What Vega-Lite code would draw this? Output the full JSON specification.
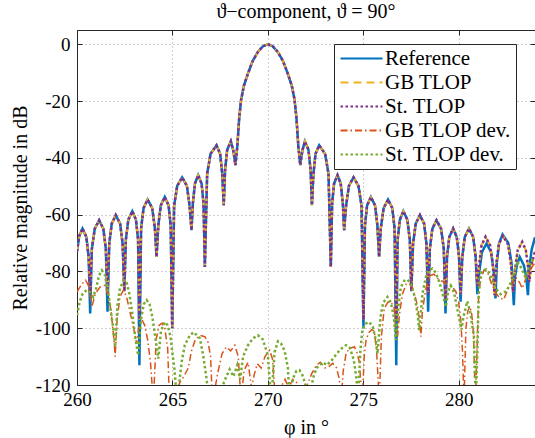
{
  "$schema": "https://vega.github.io/schema/vega-lite/v6.json",
  "width": 458,
  "height": 355,
  "autosize": {"type": "none"},
  "padding": {"left": 77, "top": 30, "right": 0, "bottom": 53},
  "background": "white",
  "title": {"text": "ϑ−component, ϑ = 90°", "font": "Liberation Serif, DejaVu Serif, serif", "fontSize": 20, "fontWeight": "normal", "color": "black", "anchor": "middle", "frame": "group", "baseline": "bottom", "offset": 6, "dy": 18},
  "config": {"view": {"stroke": null}},
  "datasets": {
    "main": [
      {"x":260.0,"r":-73,"t":-73},{"x":260.12,"r":-67.5,"t":-67.5},{"x":260.29,"r":-64.9,"t":-64.9},{"x":260.49,"r":-67.9,"t":-67.9},{"x":260.61,"r":-74.9,"t":-74.9},{"x":260.69,"r":-94.8,"t":-88},
      {"x":260.78,"r":-72,"t":-72},{"x":260.93,"r":-65,"t":-65},{"x":261.16,"r":-62,"t":-62},{"x":261.38,"r":-65,"t":-65},{"x":261.51,"r":-72,"t":-72},{"x":261.6,"r":-94.2,"t":-88},
      {"x":261.69,"r":-70.2,"t":-70.2},{"x":261.82,"r":-63.2,"t":-63.2},{"x":262.03,"r":-60.2,"t":-60.2},{"x":262.26,"r":-63.2,"t":-63.2},{"x":262.39,"r":-70.2,"t":-70.2},{"x":262.48,"r":-87,"t":-87},
      {"x":262.56,"r":-68.8,"t":-68.8},{"x":262.69,"r":-61.8,"t":-61.8},{"x":262.9,"r":-58.8,"t":-58.8},{"x":263.09,"r":-61.8,"t":-61.8},{"x":263.2,"r":-68.8,"t":-68.8},{"x":263.27,"r":-113,"t":-97},
      {"x":263.36,"r":-64.7,"t":-64.7},{"x":263.49,"r":-57.7,"t":-57.7},{"x":263.7,"r":-54.7,"t":-54.7},{"x":263.94,"r":-57.7,"t":-57.7},{"x":264.08,"r":-64.7,"t":-64.7},{"x":264.17,"r":-74.9,"t":-74.9},
      {"x":264.26,"r":-63.8,"t":-63.8},{"x":264.39,"r":-56.8,"t":-56.8},{"x":264.6,"r":-53.8,"t":-53.8},{"x":264.8,"r":-56.8,"t":-56.8},{"x":264.91,"r":-63.8,"t":-63.8},{"x":264.99,"r":-100,"t":-100},
      {"x":265.09,"r":-56.9,"t":-56.9},{"x":265.25,"r":-49.9,"t":-49.9},{"x":265.51,"r":-46.9,"t":-46.9},{"x":265.76,"r":-49.9,"t":-49.9},{"x":265.9,"r":-56.9,"t":-56.9},{"x":266.0,"r":-65.5,"t":-65.5},
      {"x":266.07,"r":-56.1,"t":-56.1},{"x":266.18,"r":-49.1,"t":-49.1},{"x":266.35,"r":-46.1,"t":-46.1},{"x":266.53,"r":-49.1,"t":-49.1},{"x":266.63,"r":-56.1,"t":-56.1},{"x":266.7,"r":-78.4,"t":-78.4},
      {"x":266.82,"r":-45.6,"t":-45.6},{"x":267.0,"r":-38.6,"t":-38.6},{"x":267.31,"r":-35.6,"t":-35.6},{"x":267.5,"r":-38.6,"t":-38.6},{"x":267.61,"r":-45.6,"t":-45.6},{"x":267.69,"r":-56.7,"t":-56.7},
      {"x":267.76,"r":-44.2,"t":-44.2},{"x":267.87,"r":-37.2,"t":-37.2},{"x":268.06,"r":-34.2,"t":-34.2},{"x":268.18,"r":-37.2,"t":-37.2},{"x":268.25,"r":-40,"t":-40},{"x":268.3,"r":-42.6,"t":-42.6},
      {"x":268.4,"r":-36,"t":-36},{"x":268.5,"r":-26,"t":-26},{"x":268.6,"r":-19.5,"t":-19.5},{"x":268.75,"r":-14.5,"t":-14.5},{"x":268.96,"r":-10.3,"t":-10.3},{"x":269.2,"r":-6,"t":-6},
      {"x":269.48,"r":-2.7,"t":-2.7},{"x":269.75,"r":-0.7,"t":-0.7},{"x":270.0,"r":0,"t":0},{"x":270.25,"r":-0.7,"t":-0.7},{"x":270.52,"r":-2.7,"t":-2.7},{"x":270.8,"r":-6,"t":-6},
      {"x":271.04,"r":-10.3,"t":-10.3},{"x":271.25,"r":-14.5,"t":-14.5},{"x":271.4,"r":-19.5,"t":-19.5},{"x":271.5,"r":-26,"t":-26},{"x":271.6,"r":-36,"t":-36},{"x":271.7,"r":-42.6,"t":-42.6},
      {"x":271.75,"r":-40,"t":-40},{"x":271.82,"r":-37.2,"t":-37.2},{"x":271.94,"r":-34.2,"t":-34.2},{"x":272.13,"r":-37.2,"t":-37.2},{"x":272.24,"r":-44.2,"t":-44.2},{"x":272.31,"r":-56.7,"t":-56.7},
      {"x":272.39,"r":-45.6,"t":-45.6},{"x":272.5,"r":-38.6,"t":-38.6},{"x":272.69,"r":-35.6,"t":-35.6},{"x":273.0,"r":-38.6,"t":-38.6},{"x":273.18,"r":-45.6,"t":-45.6},{"x":273.3,"r":-78.4,"t":-78.4},
      {"x":273.37,"r":-56.1,"t":-56.1},{"x":273.47,"r":-49.1,"t":-49.1},{"x":273.65,"r":-46.1,"t":-46.1},{"x":273.82,"r":-49.1,"t":-49.1},{"x":273.93,"r":-56.1,"t":-56.1},{"x":274.0,"r":-65.5,"t":-65.5},
      {"x":274.1,"r":-56.9,"t":-56.9},{"x":274.25,"r":-49.9,"t":-49.9},{"x":274.49,"r":-46.9,"t":-46.9},{"x":274.75,"r":-49.9,"t":-49.9},{"x":274.91,"r":-56.9,"t":-56.9},{"x":275.01,"r":-100,"t":-97},
      {"x":275.09,"r":-63.8,"t":-63.8},{"x":275.2,"r":-56.8,"t":-56.8},{"x":275.4,"r":-53.8,"t":-53.8},{"x":275.62,"r":-56.8,"t":-56.8},{"x":275.74,"r":-63.8,"t":-63.8},{"x":275.83,"r":-74.9,"t":-74.9},
      {"x":275.92,"r":-64.7,"t":-64.7},{"x":276.07,"r":-57.7,"t":-57.7},{"x":276.3,"r":-54.7,"t":-54.7},{"x":276.52,"r":-57.7,"t":-57.7},{"x":276.64,"r":-64.7,"t":-64.7},{"x":276.73,"r":-113,"t":-97},
      {"x":276.8,"r":-68.8,"t":-68.8},{"x":276.92,"r":-61.8,"t":-61.8},{"x":277.1,"r":-58.8,"t":-58.8},{"x":277.31,"r":-61.8,"t":-61.8},{"x":277.44,"r":-68.8,"t":-68.8},{"x":277.52,"r":-87,"t":-87},
      {"x":277.61,"r":-70.2,"t":-70.2},{"x":277.75,"r":-63.2,"t":-63.2},{"x":277.97,"r":-60.2,"t":-60.2},{"x":278.19,"r":-63.2,"t":-63.2},{"x":278.31,"r":-70.2,"t":-70.2},{"x":278.4,"r":-94.2,"t":-88},
      {"x":278.49,"r":-72,"t":-72},{"x":278.62,"r":-65,"t":-65},{"x":278.84,"r":-62,"t":-62},{"x":279.08,"r":-65,"t":-65},{"x":279.22,"r":-72,"t":-72},{"x":279.31,"r":-94.8,"t":-90},
      {"x":279.39,"r":-74.9,"t":-74.9},{"x":279.51,"r":-67.9,"t":-67.9},{"x":279.71,"r":-64.9,"t":-64.9},{"x":279.9,"r":-67.9,"t":-67.9},{"x":280.02,"r":-74.9,"t":-74.9},{"x":280.1,"r":-90.7,"t":-88},
      {"x":280.19,"r":-74.9,"t":-74.9},{"x":280.32,"r":-67.9,"t":-67.9},{"x":280.54,"r":-64.9,"t":-64.9},{"x":280.76,"r":-67.9,"t":-67.9},{"x":280.89,"r":-74.9,"t":-74.9},{"x":280.98,"r":-88,"t":-85},
      {"x":281.08,"r":-80.2},{"x":281.22,"r":-73.2},{"x":281.46,"r":-70.2},{"x":281.7,"r":-73.2},{"x":281.84,"r":-80.2},{"x":281.93,"r":-89.5},
      {"x":282.0,"r":-77},{"x":282.12,"r":-70},{"x":282.3,"r":-67},{"x":282.6,"r":-70},{"x":282.77,"r":-77},{"x":282.89,"r":-91.9},
      {"x":282.95,"r":-82},{"x":283.05,"r":-77.9},{"x":283.2,"r":-74.9},{"x":283.42,"r":-77.9},{"x":283.54,"r":-82},{"x":283.63,"r":-88.4},
      {"x":283.7,"r":-79},{"x":283.82,"r":-72.5},{"x":284.0,"r":-68},
      {"x":281.07,"t":-77.8},{"x":281.2,"t":-70.8},{"x":281.41,"t":-67.8},{"x":281.65,"t":-70.8},{"x":281.79,"t":-77.8},{"x":281.88,"t":-88.4},
      {"x":281.97,"t":-77.5},{"x":282.1,"t":-70.5},{"x":282.32,"t":-67.5},{"x":282.59,"t":-70.5},{"x":282.74,"t":-77.5},{"x":282.85,"t":-87.2},
      {"x":282.95,"t":-79.6},{"x":283.09,"t":-72.6},{"x":283.33,"t":-69.6},{"x":283.52,"t":-72.6},{"x":283.63,"t":-78},{"x":283.7,"t":-83.7},
      {"x":283.8,"t":-78},{"x":284.0,"t":-73}
    ],
    "gd": [
      {"x":260.0,"y":-87.2},{"x":260.25,"y":-84.5},{"x":260.45,"y":-83.1},{"x":260.6,"y":-85},{"x":260.78,"y":-92.5},{"x":260.95,"y":-88},
      {"x":261.2,"y":-85.5},{"x":261.47,"y":-84.9},{"x":261.65,"y":-88},{"x":261.8,"y":-95},{"x":261.95,"y":-105},{"x":262.0,"y":-110},
      {"x":262.1,"y":-97},{"x":262.25,"y":-89},{"x":262.43,"y":-86.6},{"x":262.6,"y":-89},{"x":262.8,"y":-95},{"x":263.0,"y":-101},
      {"x":263.13,"y":-105.5},{"x":263.25,"y":-99},{"x":263.4,"y":-97},{"x":263.55,"y":-99},{"x":263.7,"y":-104},{"x":263.85,"y":-112},
      {"x":264.0,"y":-126},{"x":264.15,"y":-104},{"x":264.3,"y":-99},{"x":264.45,"y":-98.2},{"x":264.6,"y":-100},{"x":264.75,"y":-107},
      {"x":264.85,"y":-126},{"x":265.2,"y":-122},{"x":265.4,"y":-119},{"x":265.6,"y":-117},{"x":265.83,"y":-114},{"x":266.0,"y":-108},
      {"x":266.2,"y":-104},{"x":266.45,"y":-102.5},{"x":266.7,"y":-103},{"x":266.87,"y":-105},{"x":267.0,"y":-110},{"x":267.1,"y":-126},
      {"x":267.4,"y":-115},{"x":267.6,"y":-109},{"x":267.83,"y":-106.6},{"x":268.05,"y":-108},{"x":268.27,"y":-106},{"x":268.45,"y":-110},
      {"x":268.6,"y":-126},{"x":268.75,"y":-115},{"x":268.96,"y":-112},{"x":269.15,"y":-121},{"x":269.3,"y":-116},{"x":269.45,"y":-112.5},
      {"x":269.65,"y":-114},{"x":269.85,"y":-110},{"x":270.1,"y":-107.7},{"x":270.25,"y":-111},{"x":270.4,"y":-126},{"x":270.6,"y":-122},
      {"x":270.9,"y":-118},{"x":271.1,"y":-121},{"x":271.3,"y":-118},{"x":271.5,"y":-119},{"x":271.7,"y":-126},{"x":272.0,"y":-121},
      {"x":272.3,"y":-116},{"x":272.55,"y":-113},{"x":272.75,"y":-112},{"x":273.0,"y":-114},{"x":273.2,"y":-113.5},{"x":273.4,"y":-112.4},
      {"x":273.6,"y":-114},{"x":273.75,"y":-118},{"x":273.84,"y":-126},{"x":273.95,"y":-115},{"x":274.1,"y":-109},{"x":274.27,"y":-107},
      {"x":274.54,"y":-106.6},{"x":274.7,"y":-109},{"x":274.8,"y":-112.4},{"x":274.95,"y":-126},{"x":275.05,"y":-110},{"x":275.15,"y":-104},
      {"x":275.3,"y":-101.5},{"x":275.45,"y":-100.5},{"x":275.58,"y":-101},{"x":275.7,"y":-108},{"x":275.84,"y":-126},{"x":275.95,"y":-103},
      {"x":276.1,"y":-93},{"x":276.3,"y":-90.8},{"x":276.45,"y":-90.7},{"x":276.62,"y":-93},{"x":276.72,"y":-100},{"x":276.8,"y":-103},
      {"x":276.9,"y":-95},{"x":277.05,"y":-88},{"x":277.25,"y":-84.5},{"x":277.41,"y":-84.3},{"x":277.6,"y":-86},{"x":277.8,"y":-91},
      {"x":277.95,"y":-97},{"x":278.02,"y":-103},{"x":278.1,"y":-94},{"x":278.28,"y":-86},{"x":278.5,"y":-81.5},{"x":278.7,"y":-81},
      {"x":278.9,"y":-82.5},{"x":279.15,"y":-83.5},{"x":279.4,"y":-84.5},{"x":279.67,"y":-85.5},{"x":279.85,"y":-87},{"x":280.0,"y":-91},
      {"x":280.11,"y":-97},{"x":280.2,"y":-108},{"x":280.28,"y":-126},{"x":280.38,"y":-100},{"x":280.48,"y":-94},{"x":280.57,"y":-92.5},
      {"x":280.67,"y":-94},{"x":280.78,"y":-102},{"x":280.87,"y":-126},{"x":280.95,"y":-110},{"x":281.05,"y":-88},{"x":281.15,"y":-83},
      {"x":281.33,"y":-79.5},{"x":281.5,"y":-80},{"x":281.7,"y":-84},{"x":281.9,"y":-87},{"x":282.1,"y":-89},{"x":282.35,"y":-90},
      {"x":282.6,"y":-86},{"x":282.98,"y":-82},{"x":283.2,"y":-84},{"x":283.33,"y":-86},{"x":283.55,"y":-82},{"x":283.77,"y":-79},
      {"x":284.0,"y":-77}
    ],
    "sd": [
      {"x":260.0,"y":-95.4},{"x":260.15,"y":-90.5},{"x":260.3,"y":-87.8},{"x":260.5,"y":-86.6},{"x":260.7,"y":-87.5},{"x":260.85,"y":-89},
      {"x":261.0,"y":-86},{"x":261.15,"y":-81.5},{"x":261.3,"y":-79.6},{"x":261.45,"y":-81},{"x":261.6,"y":-86},{"x":261.75,"y":-93},
      {"x":261.9,"y":-100},{"x":262.0,"y":-106.6},{"x":262.12,"y":-92},{"x":262.25,"y":-86},{"x":262.45,"y":-83.1},{"x":262.6,"y":-84},
      {"x":262.75,"y":-88},{"x":262.9,"y":-95},{"x":263.05,"y":-103},{"x":263.2,"y":-109.5},{"x":263.35,"y":-97},{"x":263.5,"y":-91.5},
      {"x":263.65,"y":-90.1},{"x":263.8,"y":-91.5},{"x":263.95,"y":-96},{"x":264.1,"y":-103},{"x":264.26,"y":-110.7},{"x":264.4,"y":-101},
      {"x":264.6,"y":-97.8},{"x":264.75,"y":-99},{"x":264.9,"y":-103},{"x":264.99,"y":-108.3},{"x":265.1,"y":-114},{"x":265.25,"y":-126},
      {"x":265.48,"y":-112},{"x":265.65,"y":-106},{"x":265.91,"y":-102.5},{"x":266.12,"y":-101.4},{"x":266.44,"y":-103.6},{"x":266.61,"y":-109.5},
      {"x":266.79,"y":-117.7},{"x":266.9,"y":-126},{"x":267.3,"y":-130},{"x":267.7,"y":-119},{"x":268.0,"y":-114.5},{"x":268.2,"y":-117},
      {"x":268.4,"y":-113},{"x":268.55,"y":-118},{"x":268.7,"y":-110},{"x":268.96,"y":-106},{"x":269.22,"y":-103.6},{"x":269.48,"y":-102.5},
      {"x":269.74,"y":-104},{"x":270.0,"y":-109.5},{"x":270.18,"y":-126},{"x":270.35,"y":-108.5},{"x":270.53,"y":-104.6},{"x":270.7,"y":-105.5},
      {"x":270.88,"y":-108},{"x":271.05,"y":-114},{"x":271.15,"y":-126},{"x":271.3,"y":-118},{"x":271.5,"y":-115},{"x":271.66,"y":-114.8},
      {"x":271.85,"y":-117},{"x":272.05,"y":-122},{"x":272.2,"y":-128},{"x":272.35,"y":-118},{"x":272.55,"y":-114},{"x":272.88,"y":-112},
      {"x":273.1,"y":-113},{"x":273.32,"y":-111.5},{"x":273.55,"y":-109.5},{"x":273.8,"y":-107.5},{"x":274.1,"y":-106},{"x":274.3,"y":-107},
      {"x":274.5,"y":-111},{"x":274.65,"y":-118},{"x":274.72,"y":-126},{"x":274.85,"y":-108},{"x":274.95,"y":-101},{"x":275.1,"y":-98.5},
      {"x":275.3,"y":-97.8},{"x":275.5,"y":-99.5},{"x":275.65,"y":-104},{"x":275.75,"y":-109},{"x":275.85,"y":-100},{"x":275.93,"y":-94.8},
      {"x":276.05,"y":-91},{"x":276.27,"y":-89},{"x":276.45,"y":-91},{"x":276.6,"y":-96},{"x":276.71,"y":-104.2},{"x":276.85,"y":-92},
      {"x":276.97,"y":-85.5},{"x":277.15,"y":-83.3},{"x":277.32,"y":-82.9},{"x":277.5,"y":-84.5},{"x":277.7,"y":-89},{"x":277.85,"y":-95},
      {"x":277.93,"y":-100.7},{"x":278.1,"y":-88},{"x":278.28,"y":-82},{"x":278.45,"y":-79.5},{"x":278.63,"y":-79},{"x":278.8,"y":-80.5},
      {"x":279.0,"y":-84},{"x":279.2,"y":-89},{"x":279.33,"y":-92.5},{"x":279.45,"y":-87},{"x":279.59,"y":-85},{"x":279.76,"y":-87.5},
      {"x":279.95,"y":-94},{"x":280.15,"y":-100.5},{"x":280.25,"y":-96},{"x":280.45,"y":-90.5},{"x":280.6,"y":-94},{"x":280.8,"y":-103},
      {"x":280.89,"y":-126},{"x":280.97,"y":-110},{"x":281.05,"y":-88},{"x":281.15,"y":-81},{"x":281.3,"y":-79.5},{"x":281.45,"y":-79.3},
      {"x":281.6,"y":-80.5},{"x":281.8,"y":-84},{"x":281.94,"y":-86},{"x":282.2,"y":-88},{"x":282.5,"y":-87},{"x":282.8,"y":-83},
      {"x":283.07,"y":-76.5},{"x":283.3,"y":-79},{"x":283.5,"y":-82},{"x":283.7,"y":-78},{"x":283.85,"y":-76},{"x":284.0,"y":-77}
    ]
  },
  "layer": [
    {
      "data": {"name": "main"},
      "transform": [{"filter": "isValid(datum.r)"}],
      "mark": {"type": "line", "clip": true, "strokeWidth": 2.5},
      "encoding": {
        "x": {"field": "x", "type": "quantitative", "scale": {"domain": [260, 284], "nice": false, "zero": false},
          "axis": {"orient": "bottom", "values": [260, 265, 270, 275, 280], "grid": true, "gridDash": [1, 3], "gridColor": "#262626", "gridOpacity": 0.45, "domain": true, "domainColor": "#262626", "ticks": true, "tickSize": -5, "tickColor": "#262626", "labelFont": "Liberation Serif", "labelFontSize": 19, "labelColor": "black", "labelPadding": 10, "labelFlush": false, "title": "φ in °", "titleFont": "Liberation Serif, DejaVu Serif, serif", "titleFontSize": 20, "titleFontWeight": "normal", "titleColor": "black", "titlePadding": 8}},
        "y": {"field": "r", "type": "quantitative", "scale": {"domain": [-120, 5], "nice": false, "zero": false},
          "axis": {"orient": "left", "values": [-120, -100, -80, -60, -40, -20, 0], "labelExpr": "'' + datum.value", "grid": true, "gridDash": [1, 3], "gridColor": "#262626", "gridOpacity": 0.45, "domain": true, "domainColor": "#262626", "ticks": true, "tickSize": -5, "tickColor": "#262626", "labelFont": "Liberation Serif", "labelFontSize": 19, "labelColor": "black", "labelPadding": 12, "labelFlush": false, "title": "Relative magnitude in dB", "titleFont": "Liberation Serif", "titleFontSize": 20, "titleFontWeight": "normal", "titleColor": "black", "titlePadding": 5}},
        "color": {"datum": "Reference", "type": "nominal",
          "scale": {"domain": ["Reference", "GB TLOP", "St. TLOP", "GB TLOP dev.", "St. TLOP dev."], "range": ["#0072BD", "#EDB120", "#7E2F8E", "#D95319", "#77AC30"]},
          "legend": {"title": null, "orient": "none", "legendX": 257, "legendY": 14, "padding": 4, "fillColor": "white", "strokeColor": "#262626", "cornerRadius": 0, "labelFont": "Liberation Serif", "labelFontSize": 21, "labelColor": "black", "symbolType": "M-3,0H3", "symbolSize": 196, "symbolStrokeWidth": 2, "symbolOffset": 13, "labelOffset": 13, "rowPadding": 2, "labelLimit": 0}},
        "strokeDash": {"datum": "Reference", "type": "nominal",
          "scale": {"domain": ["Reference", "GB TLOP", "St. TLOP", "GB TLOP dev.", "St. TLOP dev."], "range": [[1, 0], [8, 5], [2.5, 2.5], [7, 3, 1.5, 3], [2.5, 2.5]]},
          "legend": {"title": null, "orient": "none", "legendX": 257, "legendY": 14, "padding": 4, "fillColor": "white", "strokeColor": "#262626", "cornerRadius": 0, "labelFont": "Liberation Serif", "labelFontSize": 21, "labelColor": "black", "symbolType": "M-3,0H3", "symbolSize": 196, "symbolStrokeWidth": 2, "symbolOffset": 13, "labelOffset": 13, "rowPadding": 2, "labelLimit": 0}}
      }
    },
    {
      "data": {"name": "main"},
      "transform": [{"filter": "isValid(datum.t)"}],
      "mark": {"type": "line", "clip": true, "strokeWidth": 2},
      "encoding": {
        "x": {"field": "x", "type": "quantitative",
          "axis": {"orient": "top", "values": [260, 265, 270, 275, 280], "grid": false, "labels": false, "domain": true, "domainColor": "#262626", "ticks": true, "tickSize": -5, "tickColor": "#262626", "title": null}},
        "y": {"field": "t", "type": "quantitative",
          "axis": {"orient": "right", "values": [-120, -100, -80, -60, -40, -20, 0], "grid": false, "labels": false, "domain": false, "ticks": true, "tickSize": -5, "tickColor": "#262626", "title": null}},
        "color": {"datum": "GB TLOP", "type": "nominal"},
        "strokeDash": {"datum": "GB TLOP", "type": "nominal"}
      }
    },
    {
      "data": {"name": "main"},
      "transform": [{"filter": "isValid(datum.t)"}],
      "mark": {"type": "line", "clip": true, "strokeWidth": 2.5},
      "encoding": {
        "x": {"field": "x", "type": "quantitative", "axis": null},
        "y": {"field": "t", "type": "quantitative", "axis": null},
        "color": {"datum": "St. TLOP", "type": "nominal"},
        "strokeDash": {"datum": "St. TLOP", "type": "nominal"}
      }
    },
    {
      "data": {"name": "gd"},
      "mark": {"type": "line", "clip": true, "strokeWidth": 1.5},
      "encoding": {
        "x": {"field": "x", "type": "quantitative", "axis": null},
        "y": {"field": "y", "type": "quantitative", "axis": null},
        "color": {"datum": "GB TLOP dev.", "type": "nominal"},
        "strokeDash": {"datum": "GB TLOP dev.", "type": "nominal"}
      }
    },
    {
      "data": {"name": "sd"},
      "mark": {"type": "line", "clip": true, "strokeWidth": 2.5},
      "encoding": {
        "x": {"field": "x", "type": "quantitative", "axis": null},
        "y": {"field": "y", "type": "quantitative", "axis": null},
        "color": {"datum": "St. TLOP dev.", "type": "nominal"},
        "strokeDash": {"datum": "St. TLOP dev.", "type": "nominal"}
      }
    }
  ],
  "resolve": {"axis": {"x": "independent", "y": "independent"}}
}
